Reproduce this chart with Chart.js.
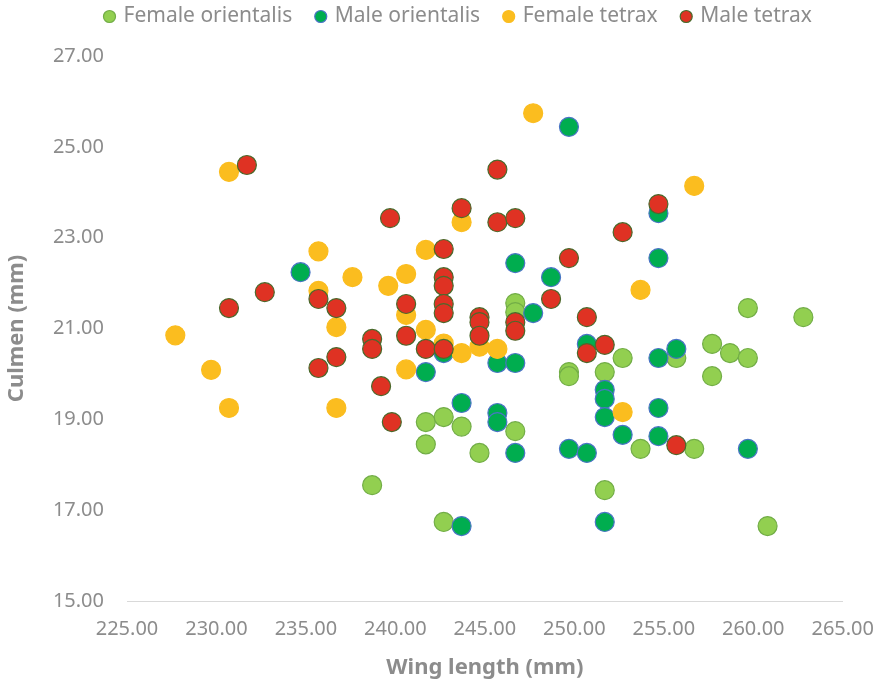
<!DOCTYPE html>
<html>
<head>
<meta charset="utf-8">
<script src="https://cdn.jsdelivr.net/npm/chart.js@4"></script>
<style>
  html, body { margin: 0; padding: 0; background: #fff; }
  #wrap { width: 890px; height: 683px; }
</style>
</head>
<body>
<div id="wrap"><canvas id="chart" width="890" height="683"></canvas></div>
<script>
// wing length (x) and culmen (y), per group
const femaleOrientalisX = [246.7, 246.7, 249.7, 249.7, 251.7, 252.7, 241.7, 242.7, 243.7, 246.7, 241.7, 244.7, 238.7, 242.7, 251.7, 255.7, 257.7, 258.7, 259.7, 257.7, 253.7, 256.7, 260.8, 262.8, 259.7];
const femaleOrientalisY = [21.56, 21.36, 20.04, 19.95, 20.04, 20.35, 18.94, 19.05, 18.84, 18.74, 18.45, 18.26, 17.55, 16.74, 17.44, 20.35, 20.66, 20.46, 20.35, 19.95, 18.35, 18.35, 16.65, 21.25, 21.45];

const maleOrientalisX = [234.7, 249.7, 246.7, 248.7, 247.7, 254.7, 254.7, 242.7, 241.7, 245.7, 246.7, 243.7, 245.7, 245.7, 246.7, 249.7, 250.7, 243.7, 251.7, 250.7, 251.7, 251.7, 251.7, 252.7, 254.7, 255.7, 254.7, 254.7, 259.7];
const maleOrientalisY = [22.24, 25.44, 22.44, 22.13, 21.34, 23.54, 22.55, 20.46, 20.04, 20.24, 20.24, 19.36, 19.14, 18.94, 18.26, 18.35, 18.26, 16.65, 16.74, 20.66, 19.65, 19.45, 19.05, 18.66, 20.35, 20.55, 19.25, 18.63, 18.35];

const femaleTetraxX = [227.7, 229.7, 230.7, 230.7, 235.7, 235.7, 236.7, 236.7, 237.6, 239.6, 240.6, 240.6, 240.6, 241.7, 241.7, 242.7, 243.7, 243.7, 244.7, 245.7, 247.7, 252.7, 253.7, 256.7];
const femaleTetraxY = [20.85, 20.09, 24.45, 19.25, 22.70, 21.83, 21.03, 19.25, 22.13, 21.94, 22.20, 21.30, 20.10, 22.73, 20.97, 20.67, 23.34, 20.46, 20.60, 20.55, 25.74, 19.16, 21.85, 24.14];

const maleTetraxX = [231.7, 232.7, 230.7, 235.7, 236.7, 238.7, 238.7, 235.7, 236.7, 239.2, 239.8, 239.7, 240.6, 240.6, 241.7, 242.7, 242.7, 242.7, 242.7, 242.7, 242.7, 243.7, 244.7, 244.7, 244.7, 245.7, 245.7, 246.7, 246.7, 246.7, 248.7, 249.7, 250.7, 250.7, 251.7, 252.7, 254.7, 255.7];
const maleTetraxY = [24.60, 21.80, 21.45, 21.65, 21.45, 20.77, 20.55, 20.13, 20.37, 19.73, 18.94, 23.43, 21.54, 20.84, 20.55, 22.75, 22.13, 21.94, 21.54, 21.34, 20.55, 23.65, 21.25, 21.14, 20.84, 24.50, 23.34, 23.43, 21.14, 20.95, 21.65, 22.55, 21.25, 20.46, 20.64, 23.12, 23.74, 18.43];

const xTicks = [225, 230, 235, 240, 245, 250, 255, 260, 265];
const yTicks = [15, 17, 19, 21, 23, 25, 27];

function toPoints(xs, ys) {
    return xs.map((x, i) => ({ x: x, y: ys[i] }));
}

const grey = '#8c8c8c';
const font = "'Noto Sans', 'Open Sans', sans-serif";

function series(label, xs, ys, fill, border) {
    return {
        label: label,
        data: toPoints(xs, ys),
        backgroundColor: fill,
        borderColor: border,
        pointBackgroundColor: fill,
        pointBorderColor: border,
        pointBorderWidth: 1.2,
        pointRadius: 9.5,
        pointHoverRadius: 9.5
    };
}

// first dataset is drawn on top, so the red group goes first
const datasets = [
    series('Male tetrax', maleTetraxX, maleTetraxY, '#df3223', '#4a6a2c'),
    series('Female tetrax', femaleTetraxX, femaleTetraxY, '#fbbd1f', '#fbbd1f'),
    series('Male orientalis', maleOrientalisX, maleOrientalisY, '#00ad4f', '#4a74c6'),
    series('Female orientalis', femaleOrientalisX, femaleOrientalisY, '#92cf50', '#72ad47')
];

// legend takes the band above the plot, and sits where excel put it
const legendPlace = {
    id: 'legendPlace',
    beforeInit(chart) {
        const fit = chart.legend.fit;
        chart.legend.fit = function () {
            fit.bind(chart.legend)();
            this.height = 56;
        };
    },
    afterLayout(chart) {
        chart.legend.left = 81;
        chart.legend.top = -19;
    }
};

const ctx = document.getElementById('chart').getContext('2d');

new Chart(ctx, {
    type: 'scatter',
    data: { datasets: datasets },
    plugins: [legendPlace],
    options: {
        responsive: false,
        animation: false,
        layout: { padding: { left: 0, right: 45, top: 0, bottom: 0 } },
        plugins: {
            tooltip: { enabled: false },
            legend: {
                position: 'top',
                align: 'start',
                labels: {
                    usePointStyle: true,
                    pointStyle: 'circle',
                    boxWidth: 7,
                    boxHeight: 8.5,
                    padding: 25,
                    color: grey,
                    font: { family: font, size: 21 },
                    sort: (a, b) => b.datasetIndex - a.datasetIndex
                }
            }
        },
        scales: {
            x: {
                type: 'linear',
                min: 225,
                max: 265,
                afterBuildTicks: (scale) => { scale.ticks = xTicks.map((v) => ({ value: v })); },
                afterFit: (scale) => { scale.height = 82; },
                grid: { display: false, drawTicks: false },
                border: { display: true, color: '#d9d9d9', width: 1 },
                ticks: {
                    color: grey,
                    padding: 16,
                    maxRotation: 0,
                    font: { family: font, size: 20 },
                    callback: (v) => Number(v).toFixed(2)
                },
                title: {
                    display: true,
                    text: 'Wing length (mm)',
                    color: grey,
                    padding: { top: 0, bottom: 2 },
                    font: { family: font, size: 22, weight: 'bold' }
                }
            },
            y: {
                type: 'linear',
                min: 15,
                max: 27,
                afterBuildTicks: (scale) => { scale.ticks = yTicks.map((v) => ({ value: v })); },
                afterFit: (scale) => { scale.width = 127; },
                grid: { display: false, drawTicks: false },
                border: { display: false },
                ticks: {
                    color: grey,
                    padding: 23,
                    font: { family: font, size: 20 },
                    callback: (v) => Number(v).toFixed(2)
                },
                title: {
                    display: true,
                    text: 'Culmen (mm)',
                    color: grey,
                    padding: { top: 4, bottom: 0 },
                    font: { family: font, size: 22, weight: 'bold' }
                }
            }
        }
    }
});
</script>
</body>
</html>
